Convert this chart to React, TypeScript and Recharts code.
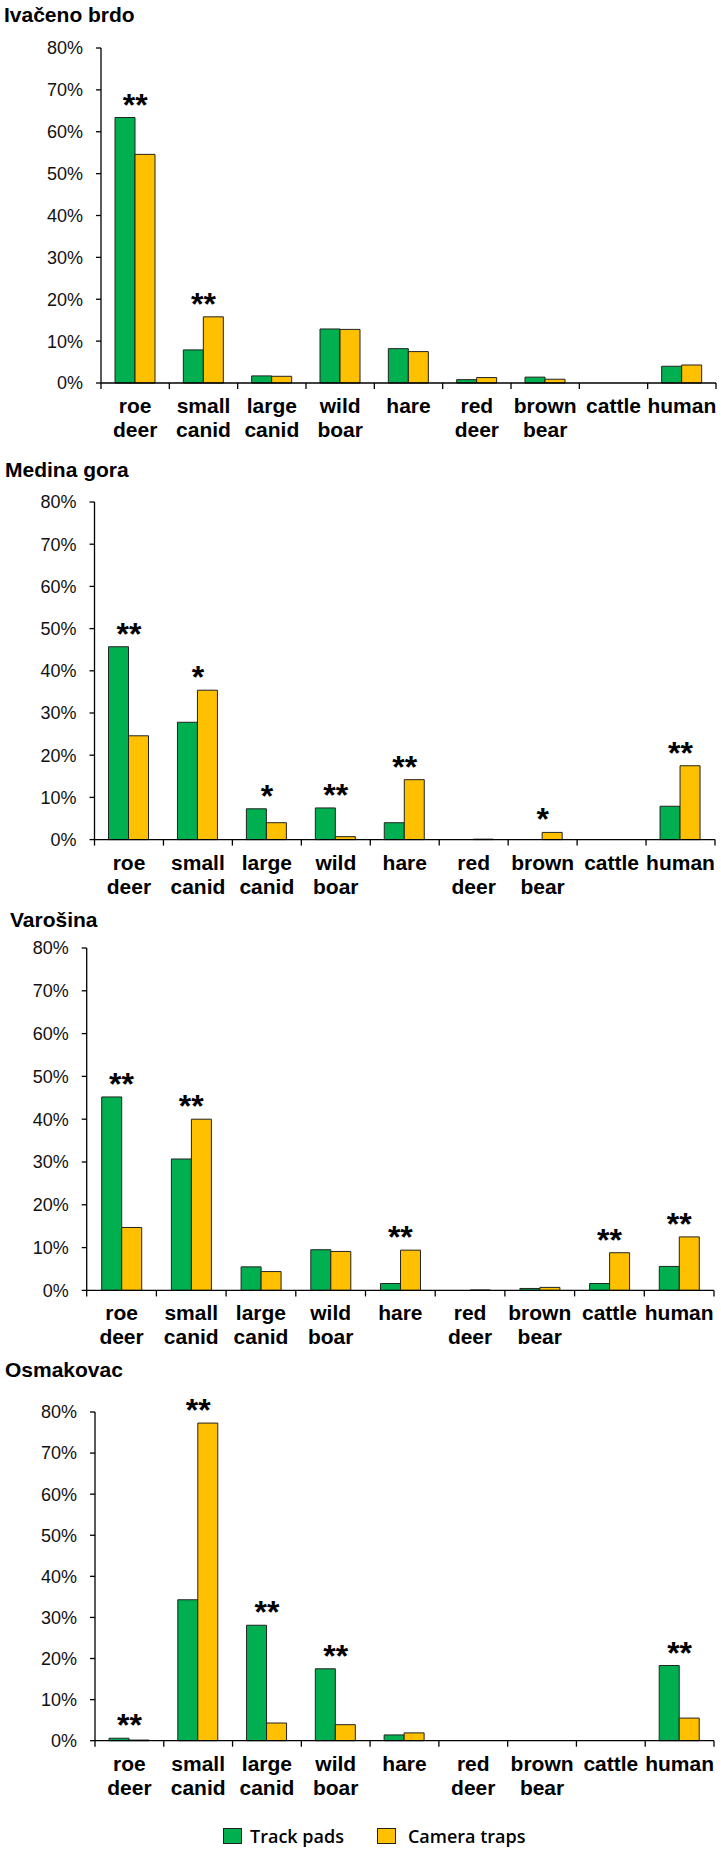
import { ComposedChart, Bar, Scatter, XAxis, YAxis } from 'recharts';

const categories = ['roe deer', 'small canid', 'large canid', 'wild boar', 'hare', 'red deer', 'brown bear', 'cattle', 'human'];
const yTicks = [0, 10, 20, 30, 40, 50, 60, 70, 80];

// Track pads vs camera traps, % of records per site
const ivacenoTrack = [63.4, 7.9, 1.7, 12.9, 8.2, 0.8, 1.4, 0, 4.0];
const ivacenoCamera = [54.6, 15.8, 1.6, 12.8, 7.5, 1.3, 0.9, 0, 4.3];
const ivacenoSig = ['**', '**', '', '', '', '', '', '', ''];

const medinaTrack = [45.7, 27.8, 7.3, 7.5, 4.0, 0, 0, 0, 7.9];
const medinaCamera = [24.6, 35.4, 4.0, 0.7, 14.2, 0.1, 1.7, 0, 17.5];
const medinaSig = ['**', '*', '*', '**', '**', '', '*', '', '**'];

const varosinaTrack = [45.2, 30.7, 5.5, 9.5, 1.6, 0, 0.45, 1.6, 5.6];
const varosinaCamera = [14.7, 40.0, 4.4, 9.1, 9.4, 0.1, 0.7, 8.8, 12.5];
const varosinaSig = ['**', '**', '', '', '**', '', '', '**', '**'];

const osmakovacTrack = [0.6, 34.3, 28.1, 17.5, 1.4, 0, 0, 0, 18.3];
const osmakovacCamera = [0.15, 77.3, 4.3, 3.9, 1.9, 0, 0, 0, 5.5];
const osmakovacSig = ['**', '**', '**', '**', '', '', '', '', '**'];

const sites = [
  { title: 'Ivačeno brdo', track: ivacenoTrack, camera: ivacenoCamera, sig: ivacenoSig },
  { title: 'Medina gora', track: medinaTrack, camera: medinaCamera, sig: medinaSig },
  { title: 'Varošina', track: varosinaTrack, camera: varosinaCamera, sig: varosinaSig },
  { title: 'Osmakovac', track: osmakovacTrack, camera: osmakovacCamera, sig: osmakovacSig },
];

// page layout of each panel (px)
const layouts = [
  { titleX: 4, titleY: 21.7, top: 47.7, bottom: 382.7, axisX: 101, right: 716 },
  { titleX: 5, titleY: 476.7, top: 501.7, bottom: 839.3, axisX: 94.5, right: 715 },
  { titleX: 10, titleY: 926.7, top: 948.3, bottom: 1290.7, axisX: 86.7, right: 714 },
  { titleX: 5, titleY: 1377.3, top: 1412.3, bottom: 1741, axisX: 95, right: 714 },
];

const GREEN = '#00B050';
const YELLOW = '#FFC000';
const FONT = '"Liberation Sans", Arial, sans-serif';
const PAD = 40;
const XH = 70;
const W = 721;

function XTick(props: any) {
  const { x, y, payload, index, band } = props;
  const words = String(payload.value).split(' ');
  return (
    <g>
      <line x1={x - band / 2} x2={x - band / 2} y1={y} y2={y + 6} stroke="#000" strokeWidth={1.3} />
      {index === categories.length - 1 && (
        <line x1={x + band / 2} x2={x + band / 2} y1={y} y2={y + 6} stroke="#000" strokeWidth={1.3} />
      )}
      <text x={x} y={y + 30} textAnchor="middle" fontFamily={FONT} fontSize={21} fontWeight="bold" fill="#000">
        {words.map((w, i) => (
          <tspan key={i} x={x} dy={i === 0 ? 0 : 24}>{w}</tspan>
        ))}
      </text>
    </g>
  );
}

function Stars(props: any) {
  const { cx, cy, payload } = props;
  if (cx == null || cy == null || !payload.sig) return <g />;
  return (
    <text x={cx} y={cy - 2} textAnchor="middle" fontFamily={FONT} fontSize={32} fontWeight="bold" fill="#000">
      {payload.sig}
    </text>
  );
}

function Panel({ site, layout }: any) {
  const data = categories.map((name, i) => ({
    name,
    track: site.track[i],
    camera: site.camera[i],
    sig: site.sig[i],
    peak: site.sig[i] ? Math.max(site.track[i], site.camera[i]) : null,
  }));
  const band = (layout.right - layout.axisX) / categories.length;
  const height = layout.bottom - layout.top + PAD + XH;
  return (
    <div style={{ position: 'absolute', left: 0, top: layout.top - PAD }}>
      <ComposedChart
        width={W}
        height={height}
        data={data}
        margin={{ top: PAD, right: W - layout.right, bottom: 0, left: 0 }}
        barGap={0}
        barSize={20}
      >
        <XAxis
          dataKey="name"
          interval={0}
          height={XH}
          tickLine={false}
          tickSize={0}
          tickMargin={0}
          axisLine={{ stroke: '#000', strokeWidth: 1.3 }}
          tick={(p: any) => <XTick {...p} band={band} />}
        />
        <YAxis
          width={layout.axisX}
          domain={[0, 80]}
          ticks={yTicks}
          interval={0}
          tickFormatter={(v: number) => `${v}%`}
          tickSize={5}
          tickMargin={13}
          axisLine={{ stroke: '#000', strokeWidth: 1.3 }}
          tickLine={{ stroke: '#000', strokeWidth: 1.3 }}
          tick={{ fontFamily: FONT, fontSize: 18, fill: '#111' }}
        />
        <Bar dataKey="track" fill={GREEN} stroke="#222" strokeWidth={1} isAnimationActive={false} />
        <Bar dataKey="camera" fill={YELLOW} stroke="#222" strokeWidth={1} isAnimationActive={false} />
        <Scatter dataKey="peak" shape={Stars} isAnimationActive={false} legendType="none" />
      </ComposedChart>
    </div>
  );
}

export default function App() {
  return (
    <div style={{ position: 'relative', width: W, height: 1854, background: '#fff' }}>
      <style>{'body{margin:0}'}</style>
      <svg width={W} height={1854} style={{ position: 'absolute', left: 0, top: 0 }}>
        {sites.map((s, i) => (
          <text key={s.title} x={layouts[i].titleX} y={layouts[i].titleY} fontFamily={FONT} fontSize={21} fontWeight="bold" fill="#000">
            {s.title}
          </text>
        ))}
      </svg>
      {sites.map((s, i) => (
        <Panel key={s.title} site={s} layout={layouts[i]} />
      ))}
      <div
        style={{
          position: 'absolute',
          top: 1826,
          left: 223,
          display: 'flex',
          alignItems: 'center',
          height: 20,
          fontFamily: '"Open Sans", "Noto Sans", sans-serif',
          fontSize: 18,
          fontWeight: 600,
          color: '#000',
        }}
      >
        <span style={{ width: 17, height: 14, background: GREEN, border: '1px solid #222', marginRight: 8 }} />
        <span style={{ marginRight: 33 }}>Track pads</span>
        <span style={{ width: 17, height: 14, background: YELLOW, border: '1px solid #222', marginRight: 12 }} />
        <span>Camera traps</span>
      </div>
    </div>
  );
}
